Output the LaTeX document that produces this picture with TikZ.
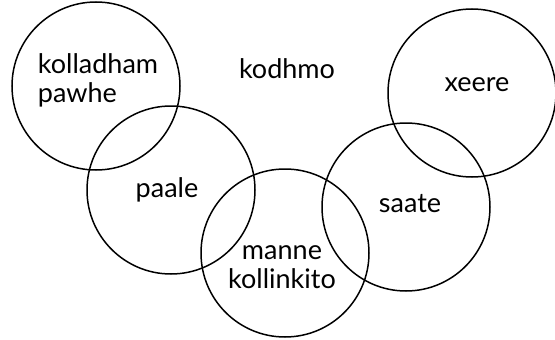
\documentclass[tikz,border=0pt]{standalone}
\usepackage{fontspec}
\setmainfont{Lato}
\begin{document}
\begin{tikzpicture}[x=1pt,y=-1pt,
  ring/.style={circle,draw=black,line width=1.5pt,minimum size=168pt,inner sep=0pt},
  lbl/.style={font=\fontsize{27}{29}\selectfont,text=black,inner sep=0pt,align=center}]
\useasboundingbox (0,0) rectangle (555,340);
\node[ring] (c1) at (96,86) {};
\node[ring] (c2) at (171,190) {};
\node[ring] (c3) at (285,253) {};
\node[ring] (c4) at (406,207) {};
\node[ring] (c5) at (472,93) {};
\node[lbl,align=left] (t1) at (98,80) {kolladham\\pawhe};
\node[lbl] (t0) at (287,69) {kodhmo};
\node[lbl] (t2) at (167,190) {paale};
\node[lbl] (t3) at (282,267) {manne\\kollinkito};
\node[lbl] (t4) at (410,204) {saate};
\node[lbl] (t5) at (477,85) {xeere};
\end{tikzpicture}
\end{document}
